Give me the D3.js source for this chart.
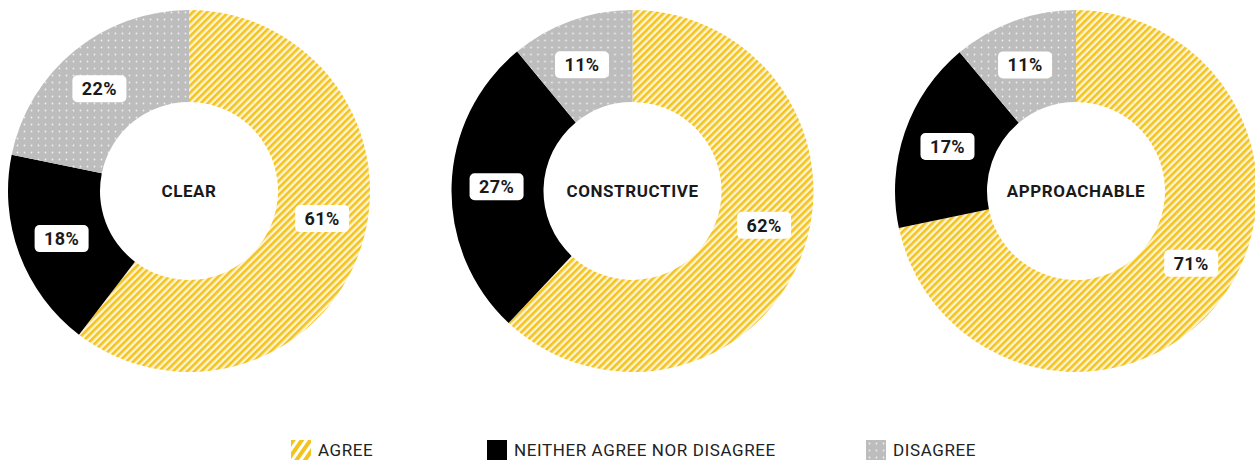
<!DOCTYPE html>
<html>
<head>
<meta charset="utf-8">
<script src="https://cdn.jsdelivr.net/npm/d3@7"></script>
<style>
  body { margin: 0; background: #fff; }
  text { font-family: Roboto, "DejaVu Sans", sans-serif; fill: #1a1a1a; }
</style>
</head>
<body>
<div id="chart"></div>
<script>
//Datos
const charts = ['CLEAR', 'CONSTRUCTIVE', 'APPROACHABLE'];
const agree = [61, 62, 71];
const neither = [18, 27, 17];
const disagree = [22, 11, 11];
const groups = ['agree', 'neither', 'disagree'];
const legendLabels = ['AGREE', 'NEITHER AGREE NOR DISAGREE', 'DISAGREE'];

const width = 1255, height = 462;
const outerR = 181, innerR = 89, labelR = 136;

//Pequeño giro de las etiquetas respecto al centro de cada sector (grados)
const labelShift = { agree: -7, neither: 0, disagree: -2 };

let svg = d3.select('#chart')
    .append('svg')
    .attr('width', width)
    .attr('height', height);

//Patrones
let defs = svg.append('defs');

let stripes = defs.append('pattern')
    .attr('id', 'stripes')
    .attr('patternUnits', 'userSpaceOnUse')
    .attr('width', 5)
    .attr('height', 5)
    .attr('patternTransform', 'rotate(45)');
stripes.append('rect').attr('width', 5).attr('height', 5).attr('fill', '#fff4d2');
stripes.append('rect').attr('width', 2.6).attr('height', 5).attr('fill', '#f3c31f');

let stripesBig = defs.append('pattern')
    .attr('id', 'stripesBig')
    .attr('patternUnits', 'userSpaceOnUse')
    .attr('width', 7)
    .attr('height', 7)
    .attr('patternTransform', 'rotate(35)');
stripesBig.append('rect').attr('width', 7).attr('height', 7).attr('fill', '#fff');
stripesBig.append('rect').attr('width', 4).attr('height', 7).attr('fill', '#f3c31f');

let dots = defs.append('pattern')
    .attr('id', 'dots')
    .attr('patternUnits', 'userSpaceOnUse')
    .attr('width', 7)
    .attr('height', 7);
dots.append('rect').attr('width', 7).attr('height', 7).attr('fill', '#bdbdbd');
dots.append('circle').attr('cx', 3.5).attr('cy', 3.5).attr('r', 0.9).attr('fill', '#efefef');

let fill = d3.scaleOrdinal()
    .domain(groups)
    .range(['url(#stripes)', '#000', 'url(#dots)']);

let legendFill = d3.scaleOrdinal()
    .domain(groups)
    .range(['url(#stripesBig)', '#000', 'url(#dots)']);

//Posiciones
let x = d3.scalePoint()
    .domain(charts)
    .range([189, 1076]);

let pie = d3.pie().sort(null).value(d => d.value);
let arc = d3.arc().innerRadius(innerR).outerRadius(outerR);

function labelPos(d) {
    let a = (d.startAngle + d.endAngle) / 2 + labelShift[d.data.key] * Math.PI / 180;
    return [Math.sin(a) * labelR, -Math.cos(a) * labelR];
}

charts.forEach(function(name, i) {
    let data = [
        { key: 'agree', value: agree[i] },
        { key: 'neither', value: neither[i] },
        { key: 'disagree', value: disagree[i] }
    ];

    let g = svg.append('g')
        .attr('transform', 'translate(' + x(name) + ',191)');

    let arcs = pie(data);

    g.selectAll('path')
        .data(arcs)
        .enter()
        .append('path')
        .attr('d', arc)
        .attr('fill', d => fill(d.data.key));

    //Etiquetas
    let lab = g.selectAll('.lab')
        .data(arcs)
        .enter()
        .append('g')
        .attr('class', 'lab')
        .attr('transform', d => 'translate(' + labelPos(d) + ')');

    lab.append('rect')
        .attr('x', -27)
        .attr('y', -13.5)
        .attr('width', 54)
        .attr('height', 27)
        .attr('rx', 5)
        .attr('fill', '#fff');

    lab.append('text')
        .attr('text-anchor', 'middle')
        .attr('dy', '0.36em')
        .style('font-size', '18px')
        .style('font-weight', 700)
        .style('letter-spacing', '0.4px')
        .text(d => d.data.value + '%');

    g.append('text')
        .attr('text-anchor', 'middle')
        .attr('dy', '0.36em')
        .style('font-size', '17px')
        .style('font-weight', 700)
        .style('letter-spacing', '0.6px')
        .text(name);
});

//Leyenda
let lx = d3.scaleOrdinal()
    .domain(groups)
    .range([291, 487, 866]);

let legend = svg.selectAll('.legend')
    .data(groups)
    .enter()
    .append('g')
    .attr('class', 'legend')
    .attr('transform', d => 'translate(' + lx(d) + ',440)');

legend.append('rect')
    .attr('width', 20)
    .attr('height', 20)
    .attr('fill', d => legendFill(d));

legend.append('text')
    .attr('x', 27)
    .attr('y', 10)
    .attr('dy', '0.36em')
    .style('font-size', '17px')
    .style('letter-spacing', '0.6px')
    .style('fill', '#222')
    .text((d, i) => legendLabels[i]);
</script>
</body>
</html>
